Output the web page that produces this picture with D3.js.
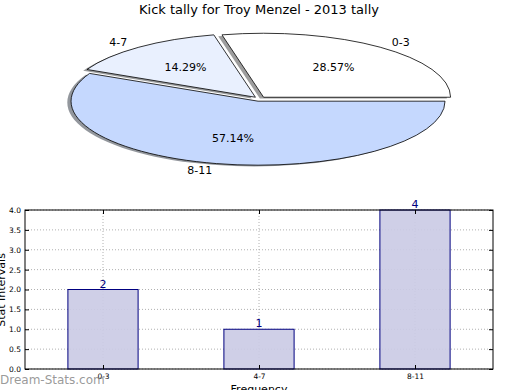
<!DOCTYPE html>
<html>
<head>
<meta charset="utf-8">
<script src="https://cdn.jsdelivr.net/npm/d3@7"></script>
<style>
body { margin: 0; background: #fff; }
svg { display: block; font-family: "DejaVu Sans", sans-serif; }
</style>
</head>
<body>
<script>
// data
const categories = ["0-3", "4-7", "8-11"];
const counts = [2, 1, 4];
const sliceColors = ["#ffffff", "#e9f0fe", "#c5d8fe"];
const yTicks = [0, 0.5, 1, 1.5, 2, 2.5, 3, 3.5, 4];

const svg = d3.select("body").append("svg")
    .attr("width", 520)
    .attr("height", 390);

// title
svg.append("text")
    .attr("x", 259)
    .attr("y", 14)
    .attr("font-size", "13px")
    .style("text-anchor", "middle")
    .text("Kick tally for Troy Menzel - 2013 tally");

// ---- pie (stretched like an unequal-aspect matplotlib pie) ----
const pie = {cx: 259.5, cy: 99, rx: 187, ry: 64, explode: 0.035};
const total = d3.sum(counts);

const arcs = d3.pie().sort(null).startAngle(0).endAngle(2 * Math.PI)(counts);

function pt(c, r, a) {
    return [c[0] + r * pie.rx * Math.cos(a), c[1] - r * pie.ry * Math.sin(a)];
}

function wedgePath(c, a0, a1) {
    const p0 = pt(c, 1, a0), p1 = pt(c, 1, a1);
    const large = (a1 - a0) > Math.PI ? 1 : 0;
    return "M" + c[0] + "," + c[1] + "L" + p0[0] + "," + p0[1]
        + "A" + pie.rx + "," + pie.ry + " 0 " + large + " 0 " + p1[0] + "," + p1[1] + "Z";
}

const slices = arcs.map((d, i) => {
    const mid = (d.startAngle + d.endAngle) / 2;
    const c = [pie.cx + pie.explode * pie.rx * Math.cos(mid), pie.cy - pie.explode * pie.ry * Math.sin(mid)];
    return {i: i, a0: d.startAngle, a1: d.endAngle, mid: mid, c: c};
});

const pieG = svg.append("g").attr("id", "pie");

// shadows first
pieG.selectAll("path.shadow")
    .data(slices)
    .join("path")
    .attr("class", "shadow")
    .attr("transform", "translate(" + (-0.02 * pie.rx) + "," + (0.02 * pie.ry) + ")")
    .attr("d", d => wedgePath(d.c, d.a0, d.a1))
    .attr("fill", d => {
        const c = d3.rgb(sliceColors[d.i]);
        return d3.rgb(c.r * 0.3, c.g * 0.3, c.b * 0.3);
    })
    .attr("fill-opacity", 0.55);

pieG.selectAll("path.wedge")
    .data(slices)
    .join("path")
    .attr("class", "wedge")
    .attr("d", d => wedgePath(d.c, d.a0, d.a1))
    .attr("fill", d => sliceColors[d.i])
    .attr("stroke", "#000")
    .attr("stroke-width", 0.8)
    .attr("stroke-linejoin", "miter");

// outer labels
pieG.selectAll("text.lbl")
    .data(slices)
    .join("text")
    .attr("class", "lbl")
    .attr("x", d => pt(d.c, 1.1, d.mid)[0])
    .attr("y", d => pt(d.c, 1.1, d.mid)[1])
    .attr("dy", "0.35em")
    .attr("font-size", "11px")
    .style("text-anchor", d => Math.cos(d.mid) > 0 ? "start" : "end")
    .text(d => categories[d.i]);

// percentage labels
pieG.selectAll("text.pct")
    .data(slices)
    .join("text")
    .attr("class", "pct")
    .attr("x", d => pt(d.c, 0.6, d.mid)[0])
    .attr("y", d => pt(d.c, 0.6, d.mid)[1])
    .attr("dy", "0.35em")
    .attr("font-size", "11px")
    .style("text-anchor", "middle")
    .text(d => (counts[d.i] / total * 100).toFixed(2) + "%");

// ---- bar chart ----
const plot = {left: 25, right: 493, top: 210, bottom: 369};

const xScale = d3.scaleLinear()
    .domain([0, categories.length])
    .range([plot.left, plot.right]);

const yScale = d3.scaleLinear()
    .domain([0, 4])
    .range([plot.bottom, plot.top]);

const barG = svg.append("g").attr("id", "bars");

// grid
barG.selectAll("line.hgrid")
    .data(yTicks)
    .join("line")
    .attr("class", "hgrid")
    .attr("x1", plot.left).attr("x2", plot.right)
    .attr("y1", d => yScale(d)).attr("y2", d => yScale(d))
    .attr("stroke", "#b0b0b0")
    .attr("stroke-width", 1)
    .attr("stroke-dasharray", "1,2");

barG.selectAll("line.vgrid")
    .data(categories)
    .join("line")
    .attr("class", "vgrid")
    .attr("x1", (d, i) => xScale(i + 0.5)).attr("x2", (d, i) => xScale(i + 0.5))
    .attr("y1", plot.top).attr("y2", plot.bottom)
    .attr("stroke", "#b0b0b0")
    .attr("stroke-width", 1)
    .attr("stroke-dasharray", "1,2");

// bars
barG.selectAll("rect.bar")
    .data(counts)
    .join("rect")
    .attr("class", "bar")
    .attr("x", (d, i) => xScale(i + 0.5 - 0.225))
    .attr("width", xScale(0.45) - xScale(0))
    .attr("y", d => yScale(d))
    .attr("height", d => yScale(0) - yScale(d))
    .attr("fill", "#cbcbe5")
    .attr("fill-opacity", 0.92)
    .attr("stroke", "#000080")
    .attr("stroke-width", 1);

// value labels
barG.selectAll("text.val")
    .data(counts)
    .join("text")
    .attr("class", "val")
    .attr("x", (d, i) => xScale(i + 0.5))
    .attr("y", d => yScale(d) - 2)
    .attr("font-size", "11px")
    .attr("fill", "#000080")
    .style("text-anchor", "middle")
    .text(d => d);

// axes
const yAxis = d3.axisLeft(yScale).tickValues(yTicks).tickSize(-4).tickPadding(4).tickFormat(d3.format(".1f"));
const yAxisG = barG.append("g")
    .attr("transform", "translate(" + plot.left + ",0)")
    .call(yAxis);
yAxisG.select(".domain").remove();
yAxisG.selectAll("text").attr("font-size", "7.5px").attr("font-family", "DejaVu Sans");

const yAxisR = d3.axisRight(yScale).tickValues(yTicks).tickSize(-4).tickFormat("");
const yAxisRG = barG.append("g")
    .attr("transform", "translate(" + plot.right + ",0)")
    .call(yAxisR);
yAxisRG.select(".domain").remove();

const xAxis = d3.axisBottom(xScale).tickValues([0.5, 1.5, 2.5]).tickSize(-4).tickPadding(5)
    .tickFormat((d, i) => categories[i]);
const xAxisG = barG.append("g")
    .attr("transform", "translate(0," + plot.bottom + ")")
    .call(xAxis);
xAxisG.select(".domain").remove();
xAxisG.selectAll("text").attr("font-size", "7.5px").attr("font-family", "DejaVu Sans");

const xAxisT = d3.axisTop(xScale).tickValues([0.5, 1.5, 2.5]).tickSize(-4).tickFormat("");
const xAxisTG = barG.append("g")
    .attr("transform", "translate(0," + plot.top + ")")
    .call(xAxisT);
xAxisTG.select(".domain").remove();

// frame
barG.append("rect")
    .attr("x", plot.left)
    .attr("y", plot.top)
    .attr("width", plot.right - plot.left)
    .attr("height", plot.bottom - plot.top)
    .attr("fill", "none")
    .attr("stroke", "#000")
    .attr("stroke-width", 1);

// axis titles
svg.append("text")
    .attr("transform", "translate(5,290) rotate(-90)")
    .attr("font-size", "11px")
    .style("text-anchor", "middle")
    .text("Stat Intervals");

svg.append("text")
    .attr("x", 259)
    .attr("y", 393)
    .attr("font-size", "11px")
    .style("text-anchor", "middle")
    .text("Frequency");

// watermark
svg.append("text")
    .attr("x", 0)
    .attr("y", 384)
    .attr("font-size", "12px")
    .attr("fill", "#808080")
    .attr("fill-opacity", 0.8)
    .text("Dream-Stats.com");
</script>
</body>
</html>
